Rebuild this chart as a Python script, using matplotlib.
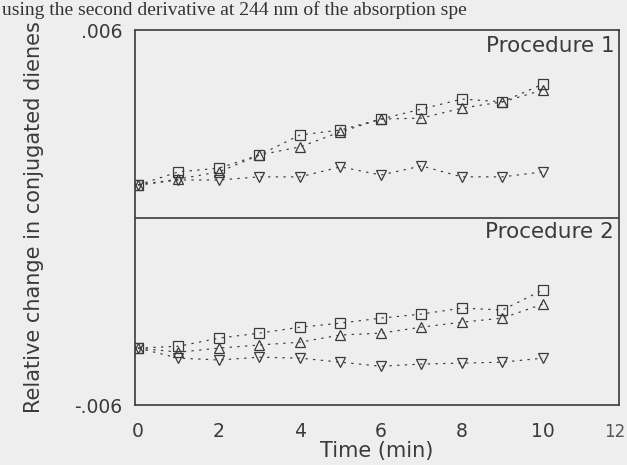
import matplotlib
matplotlib.use("Agg")
import matplotlib.pyplot as plt
import numpy as np

# ---- data (relative change in conjugated dienes) ----
time_min = [0, 1, 2, 3, 4, 5, 6, 7, 8, 9, 10]

p1_square = [0, 0.00042, 0.00054, 0.00096, 0.00160, 0.00176, 0.00211, 0.00243, 0.00275, 0.00266, 0.00323]
p1_up     = [0, 0.00019, 0.00042, 0.00096, 0.00122, 0.00170, 0.00211, 0.00214, 0.00246, 0.00266, 0.00304]
p1_down   = [0, 0.00016, 0.00016, 0.00026, 0.00026, 0.00058, 0.00032, 0.00061, 0.00026, 0.00026, 0.00042]

p2_square = [0, 0.00006, 0.00032, 0.00048, 0.00067, 0.00080, 0.00096, 0.00109, 0.00128, 0.00122, 0.00186]
p2_up     = [0, -0.00013, 0.00000, 0.00010, 0.00019, 0.00042, 0.00048, 0.00067, 0.00083, 0.00096, 0.00141]
p2_down   = [0, -0.00032, -0.00038, -0.00029, -0.00032, -0.00045, -0.00058, -0.00051, -0.00048, -0.00045, -0.00032]

panel_titles = ["Procedure 1", "Procedure 2"]
x_ticks = [0, 2, 4, 6, 8, 10]
y_tick_vals = [-0.006, 0.006]
y_tick_labels = ["-.006", ".006"]

# ---- layout / style ----
BG = "#eeeeee"
INK = "#3a3a3a"
P1_BASE = 0.00104   # vertical placement of panel 1 within the shared axis
P2_BASE = -0.00418  # vertical placement of panel 2 within the shared axis

fig = plt.figure(figsize=(6.27, 4.65), dpi=100, facecolor=BG)
ax = fig.add_axes([135/627, 1-405/465, (619-135)/627, (405-30)/465])
ax.set_facecolor(BG)

ax.set_xlim(-0.074, 11.88)
ax.set_ylim(-0.006, 0.006)

t = np.array(time_min)
ls = (0, (2.0, 4.5))
style = dict(color=INK, lw=0.85, linestyle=ls, markerfacecolor="none",
             markeredgecolor=INK, markeredgewidth=0.9, markersize=7.5)

for base, sq, up, dn in [(P1_BASE, p1_square, p1_up, p1_down),
                         (P2_BASE, p2_square, p2_up, p2_down)]:
    ax.plot(t, base + np.array(sq), marker="s", **style)
    ax.plot(t, base + np.array(up), marker="^", **style)
    ax.plot(t, base + np.array(dn), marker="v", **style)

# divider between panels
ax.axhline(0, color=INK, lw=1.2)

for sp in ax.spines.values():
    sp.set_color(INK)
    sp.set_linewidth(1.2)

ax.set_xticks(x_ticks)
ax.set_xticklabels([str(v) for v in x_ticks])
ax.set_yticks(y_tick_vals)
ax.set_yticklabels(y_tick_labels)
ax.tick_params(axis="both", length=0, labelsize=13.5, colors=INK)
ax.tick_params(axis="x", pad=12)
ax.tick_params(axis="y", pad=9)

ax.set_xlabel("Time (min)", fontsize=15, color=INK, labelpad=0)
ax.set_ylabel("Relative change in conjugated dienes", fontsize=15, color=INK, labelpad=22)

ax.text(0.99, 0.985, panel_titles[0], transform=ax.transAxes, ha="right", va="top",
        fontsize=15.5, color=INK)
ax.text(0.99, 0.488, panel_titles[1], transform=ax.transAxes, ha="right", va="top",
        fontsize=15.5, color=INK)

# page fragments visible in the scan
fig.text(2/627, 1.0 - 1/465, "using the second derivative at 244 nm of the absorption spe",
         family="Liberation Serif", fontsize=14, color="#333333", va="top", ha="left")
fig.text(625/627, 1-432/465, "12", fontsize=12, color="#555555", ha="right", va="center")

fig.savefig("out.png", dpi=100, facecolor=BG)
